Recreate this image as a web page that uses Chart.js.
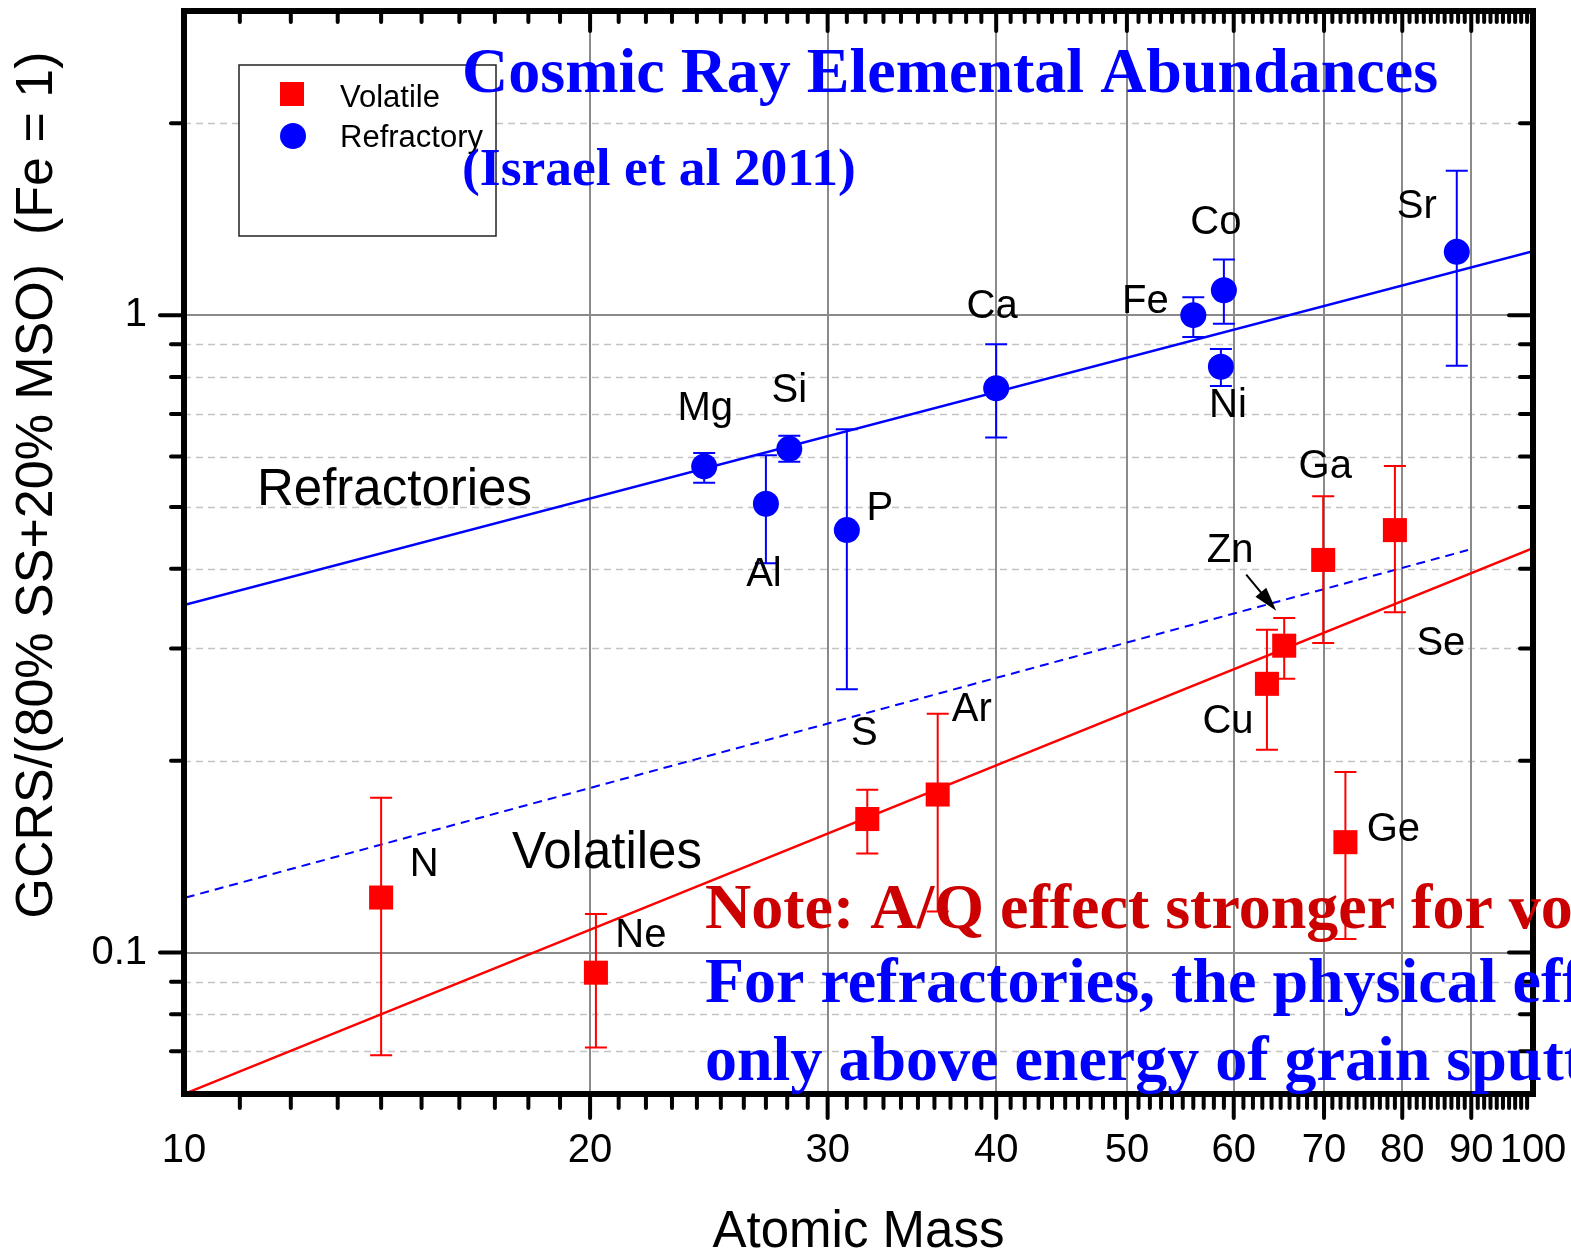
<!DOCTYPE html>
<html>
<head>
<meta charset="utf-8">
<title>Cosmic Ray Elemental Abundances</title>
<script src="https://cdn.jsdelivr.net/npm/chart.js@4.4.1/dist/chart.umd.min.js"></script>
<style>
html, body { margin: 0; padding: 0; background: #fff; }
#wrap { width: 1571px; height: 1253px; }
</style>
</head>
<body>
<div id="wrap"><canvas id="abundChart" width="1571" height="1253"></canvas></div>
<script>
// GCR source / (80% SS + 20% MSO), normalised to Fe = 1
const volatileNames = ['N', 'Ne', 'S', 'Ar', 'Cu', 'Zn', 'Ga', 'Ge', 'Se'];
const volatileMass = [14.0, 20.2, 32.1, 36.2, 63.5, 65.4, 69.9, 72.6, 79.0];
const volatileValue = [0.122, 0.093, 0.162, 0.177, 0.264, 0.303, 0.413, 0.149, 0.460];
const volatileLow = [0.069, 0.071, 0.143, 0.116, 0.208, 0.269, 0.306, 0.105, 0.342];
const volatileHigh = [0.175, 0.115, 0.180, 0.237, 0.321, 0.335, 0.520, 0.192, 0.580];

const refractoryNames = ['Mg', 'Al', 'Si', 'P', 'Ca', 'Fe', 'Co', 'Ni', 'Sr'];
const refractoryMass = [24.3, 27.0, 28.1, 31.0, 40.0, 56.0, 59.0, 58.7, 87.8];
const refractoryValue = [0.579, 0.506, 0.617, 0.460, 0.768, 1.00, 1.094, 0.830, 1.257];
const refractoryLow = [0.546, 0.408, 0.589, 0.259, 0.643, 0.924, 0.969, 0.774, 0.833];
const refractoryHigh = [0.608, 0.603, 0.647, 0.662, 0.900, 1.067, 1.223, 0.885, 1.685];

// power-law fits (end points)
const refractoryFitMass = [10, 100];
const refractoryFitValue = [0.351, 1.26];
const volatileFitMass = [10, 100];
const volatileFitValue = [0.06, 0.431];
const shiftedFitMass = [10.03, 89.5];
const shiftedFitValue = [0.122, 0.428];

// axis ticks
const xTickValues = [10, 20, 30, 40, 50, 60, 70, 80, 90, 100];
const yTickValues = [0.1, 1];
const yMinorValues = [0.07, 0.08, 0.09, 0.2, 0.3, 0.4, 0.5, 0.6, 0.7, 0.8, 0.9, 2];

// label placement around each marker: [dx, dy] to label centre / baseline
const volatileLabelPos = [[43, -22], [45, -26], [-3, -74], [34, -74], [-39, 49], [-54, -84], [2, -82], [48, -1], [46, 125]];
const refractoryLabelPos = [[1, -46], [-2, 82], [0, -47], [33, -10], [-4, -70], [-48, -2], [-8, -56], [7, 50], [-40, -34]];

const SANS = '"Liberation Sans", Arial, sans-serif';
const SERIF = '"Liberation Serif", "Times New Roman", serif';
const RED = '#ff0000';
const BLUE = '#0000ff';

const toPoints = (xs, ys) => xs.map((x, i) => ({ x: x, y: ys[i] }));

// grid lines behind the data
const gridLines = {
  id: 'gridLines',
  beforeDatasetsDraw(chart) {
    const { ctx, chartArea: a, scales: { x, y } } = chart;
    ctx.save();
    ctx.lineWidth = 1.5;
    ctx.strokeStyle = '#c4c4c4';
    ctx.setLineDash([7, 5]);
    yMinorValues.forEach(v => {
      const py = Math.round(y.getPixelForValue(v)) + 0.5;
      ctx.beginPath(); ctx.moveTo(a.left, py); ctx.lineTo(a.right, py); ctx.stroke();
    });
    ctx.setLineDash([]);
    ctx.strokeStyle = '#8a8a8a';
    ctx.lineWidth = 2;
    yTickValues.forEach(v => {
      const py = Math.round(y.getPixelForValue(v));
      ctx.beginPath(); ctx.moveTo(a.left, py); ctx.lineTo(a.right, py); ctx.stroke();
    });
    xTickValues.slice(1, -1).forEach(v => {
      const px = Math.round(x.getPixelForValue(v));
      ctx.beginPath(); ctx.moveTo(px, a.top); ctx.lineTo(px, a.bottom); ctx.stroke();
    });
    ctx.restore();
  }
};

// vertical error bars with caps, drawn just under each series' markers
const errorBars = {
  id: 'errorBars',
  beforeDatasetDraw(chart, args) {
    const ds = chart.data.datasets[args.index];
    if (!ds.errLow) return;
    const { ctx, scales: { y } } = chart;
    ctx.save();
    ctx.strokeStyle = ds.backgroundColor;
    ctx.lineWidth = 2;
    args.meta.data.forEach((pt, i) => {
      const top = y.getPixelForValue(ds.errHigh[i]);
      const bot = y.getPixelForValue(ds.errLow[i]);
      ctx.beginPath();
      ctx.moveTo(pt.x, top); ctx.lineTo(pt.x, bot);
      ctx.moveTo(pt.x - 11, top); ctx.lineTo(pt.x + 11, top);
      ctx.moveTo(pt.x - 11, bot); ctx.lineTo(pt.x + 11, bot);
      ctx.stroke();
    });
    ctx.restore();
  }
};

// heavy frame with ticks on all four sides (out on bottom/left, in on top/right)
const axisFrame = {
  id: 'axisFrame',
  afterDatasetsDraw(chart) {
    const { ctx, chartArea: a, scales: { x, y } } = chart;
    ctx.save();
    ctx.strokeStyle = '#000';
    ctx.lineCap = 'round';
    ctx.lineWidth = 4;
    const seg = (x1, y1, x2, y2) => { ctx.beginPath(); ctx.moveTo(x1, y1); ctx.lineTo(x2, y2); ctx.stroke(); };
    for (let m = 11; m < 100; m++) {
      const major = m % 10 === 0;
      const px = x.getPixelForValue(m);
      seg(px, a.bottom, px, a.bottom + (major ? 24 : 14));
      seg(px, a.top, px, a.top + (major ? 20 : 11));
    }
    yMinorValues.forEach(v => {
      const py = y.getPixelForValue(v);
      seg(a.left - 13, py, a.left, py);
      seg(a.right - 13, py, a.right, py);
    });
    yTickValues.forEach(v => {
      const py = y.getPixelForValue(v);
      seg(a.left - 24, py, a.left, py);
      seg(a.right - 24, py, a.right, py);
    });
    ctx.lineCap = 'butt';
    ctx.lineWidth = 6;
    ctx.strokeRect(a.left, a.top, a.right - a.left, a.bottom - a.top);
    ctx.restore();
  }
};

// element names beside markers, plus the Zn pointer
const elementLabels = {
  id: 'elementLabels',
  afterDatasetsDraw(chart) {
    const { ctx } = chart;
    ctx.save();
    ctx.font = '40px ' + SANS;
    ctx.fillStyle = '#000';
    ctx.textAlign = 'center';
    ctx.textBaseline = 'alphabetic';
    chart.data.datasets.forEach((ds, di) => {
      if (!ds.names) return;
      const meta = chart.getDatasetMeta(di);
      meta.data.forEach((pt, i) => {
        const off = ds.labelPos[i];
        ctx.fillText(ds.names[i], pt.x + off[0], pt.y + off[1]);
      });
    });
    const zn = chart.getDatasetMeta(0).data[volatileNames.indexOf('Zn')];
    const tx = zn.x - 38, ty = zn.y - 71, hx = zn.x - 8, hy = zn.y - 35;
    const ang = Math.atan2(hy - ty, hx - tx);
    ctx.strokeStyle = '#000';
    ctx.lineWidth = 2;
    ctx.beginPath(); ctx.moveTo(tx, ty); ctx.lineTo(hx - 18 * Math.cos(ang), hy - 18 * Math.sin(ang)); ctx.stroke();
    ctx.beginPath();
    ctx.moveTo(hx, hy);
    ctx.lineTo(hx - 24 * Math.cos(ang) + 7 * Math.sin(ang), hy - 24 * Math.sin(ang) - 7 * Math.cos(ang));
    ctx.lineTo(hx - 24 * Math.cos(ang) - 7 * Math.sin(ang), hy - 24 * Math.sin(ang) + 7 * Math.cos(ang));
    ctx.closePath();
    ctx.fill();
    ctx.restore();
  }
};

// legend box, titles and notes
const annotations = {
  id: 'annotations',
  afterDraw(chart) {
    const { ctx } = chart;
    const sets = chart.data.datasets;
    ctx.save();

    // legend
    ctx.fillStyle = '#fff';
    ctx.fillRect(239, 65, 257, 171);
    ctx.strokeStyle = '#222';
    ctx.lineWidth = 1.5;
    ctx.strokeRect(239, 65, 257, 171);
    ctx.fillStyle = sets[0].backgroundColor;
    ctx.fillRect(280, 82, 24, 24);
    ctx.fillStyle = sets[1].backgroundColor;
    ctx.beginPath(); ctx.arc(293, 136, 13, 0, Math.PI * 2); ctx.fill();
    ctx.fillStyle = '#000';
    ctx.font = '31px ' + SANS;
    ctx.textAlign = 'left';
    ctx.textBaseline = 'alphabetic';
    ctx.fillText(sets[0].label, 340, 107);
    ctx.fillText(sets[1].label, 340, 147);

    // y axis title
    ctx.save();
    ctx.translate(38, 485);
    ctx.rotate(-Math.PI / 2);
    ctx.textAlign = 'center';
    ctx.textBaseline = 'middle';
    ctx.font = '52px ' + SANS;
    ctx.fillText('GCRS/(80% SS+20% MSO)  (Fe = 1)', 0, 0);
    ctx.restore();

    // group names
    ctx.font = '51px ' + SANS;
    ctx.fillText('Refractories', 257, 505);
    ctx.fillText('Volatiles', 512, 868);

    // heading
    ctx.fillStyle = BLUE;
    ctx.font = 'bold 64px ' + SERIF;
    ctx.fillText('Cosmic Ray Elemental Abundances', 462, 92);
    ctx.font = 'bold 53.5px ' + SERIF;
    ctx.fillText('(Israel et al 2011)', 462, 185);

    // notes
    ctx.font = 'bold 64px ' + SERIF;
    ctx.fillStyle = '#cc0000';
    ctx.fillText('Note: A/Q effect stronger for volatiles', 705, 928);
    ctx.fillStyle = BLUE;
    ctx.fillText('For refractories, the physical effect appears', 705, 1002);
    ctx.fillText('only above energy of grain sputtering', 705, 1080);
    ctx.restore();
  }
};

const ctx = document.getElementById('abundChart').getContext('2d');
const abundChart = new Chart(ctx, {
  type: 'scatter',
  data: {
    datasets: [
      {
        label: 'Volatile',
        data: toPoints(volatileMass, volatileValue),
        errLow: volatileLow, errHigh: volatileHigh,
        names: volatileNames, labelPos: volatileLabelPos,
        pointStyle: 'rect', pointRadius: 17, borderWidth: 0,
        backgroundColor: RED, borderColor: RED
      },
      {
        label: 'Refractory',
        data: toPoints(refractoryMass, refractoryValue),
        errLow: refractoryLow, errHigh: refractoryHigh,
        names: refractoryNames, labelPos: refractoryLabelPos,
        pointStyle: 'circle', pointRadius: 13, borderWidth: 0,
        backgroundColor: BLUE, borderColor: BLUE
      },
      {
        label: 'Refractory fit',
        type: 'line',
        data: toPoints(refractoryFitMass, refractoryFitValue),
        borderColor: BLUE, borderWidth: 2.5, pointRadius: 0, fill: false
      },
      {
        label: 'Volatile fit',
        type: 'line',
        data: toPoints(volatileFitMass, volatileFitValue),
        borderColor: RED, borderWidth: 2.5, pointRadius: 0, fill: false
      },
      {
        label: 'Refractory fit shifted',
        type: 'line',
        data: toPoints(shiftedFitMass, shiftedFitValue),
        borderColor: BLUE, borderWidth: 2, borderDash: [9, 6], pointRadius: 0, fill: false
      }
    ]
  },
  options: {
    responsive: false,
    animation: false,
    events: [],
    layout: { autoPadding: false, padding: { top: 11, right: 38, bottom: 0, left: 0 } },
    plugins: { legend: { display: false }, tooltip: { enabled: false } },
    scales: {
      x: {
        type: 'logarithmic', min: 10, max: 100,
        grid: { display: false, drawTicks: false },
        border: { display: false },
        afterBuildTicks: s => { s.ticks = xTickValues.map(v => ({ value: v })); },
        afterFit: s => { s.height = 159; s.paddingLeft = 0; s.paddingRight = 0; },
        ticks: {
          autoSkip: false, maxRotation: 0, minRotation: 0, padding: 33, color: '#000',
          font: { family: SANS, size: 40 },
          callback: v => String(v)
        },
        title: {
          display: true, text: 'Atomic Mass', color: '#000',
          font: { family: SANS, size: 51, lineHeight: 0.8 },
          padding: { top: 0, bottom: 0 }
        }
      },
      y: {
        type: 'logarithmic', min: 0.06, max: 3,
        grid: { display: false, drawTicks: false },
        border: { display: false },
        afterBuildTicks: s => { s.ticks = yTickValues.map(v => ({ value: v })); },
        afterFit: s => { s.width = 184; s.paddingTop = 0; s.paddingBottom = 0; },
        ticks: {
          padding: 37, color: '#000',
          font: { family: SANS, size: 40 },
          callback: v => String(v)
        }
      }
    }
  },
  plugins: [gridLines, errorBars, axisFrame, elementLabels, annotations]
});
</script>
</body>
</html>
